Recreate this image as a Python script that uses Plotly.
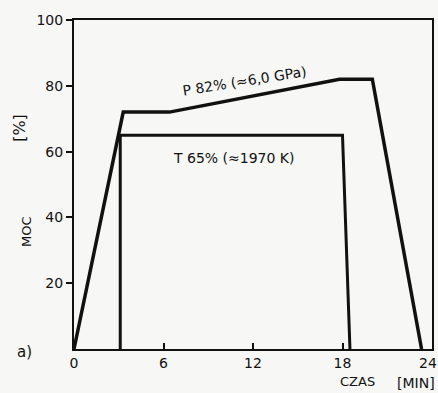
import plotly.graph_objects as go

# Data
p_time = [0, 3.3, 6.4, 17.8, 20.0, 23.3]
p_power = [0, 72, 72, 82, 82, 0]
t_time = [3.1, 3.1, 18.0, 18.5]
t_power = [0, 65, 65, 0]

x_ticks = [0, 6, 12, 18, 24]
x_ticktext = ["0", "6", "12", "18", "24"]
y_ticks = [20, 40, 60, 80, 100]

FONT = "DejaVu Sans"
ink = "#111111"

fig = go.Figure()
fig.add_trace(go.Scatter(x=p_time, y=p_power, mode="lines",
                         line=dict(color=ink, width=3.5), showlegend=False))
fig.add_trace(go.Scatter(x=t_time, y=t_power, mode="lines",
                         line=dict(color=ink, width=3), showlegend=False))

fig.update_layout(
    width=438, height=393,
    margin=dict(l=74, r=6, t=20, b=44, autoexpand=False),
    paper_bgcolor="#f7f7f5", plot_bgcolor="#f7f7f5",
    font=dict(family=FONT, color=ink, size=13),
    xaxis=dict(range=[0, 24], tickvals=x_ticks,
               ticktext=x_ticktext[:-1] + [""],
               ticks="inside", ticklen=6,
               tickwidth=1.5, tickcolor=ink, showgrid=False, zeroline=False,
               showline=True, linewidth=2, linecolor=ink, mirror=True,
               automargin=False, ticklabeloverflow="allow",
               tickfont=dict(size=14)),
    yaxis=dict(range=[0, 100], tickvals=y_ticks, ticks="outside", ticklen=6,
               tickwidth=1.5, tickcolor=ink, showgrid=False, zeroline=False,
               showline=True, linewidth=2, linecolor=ink, mirror=True,
               automargin=False, ticklabeloverflow="allow",
               tickfont=dict(size=14)),
)

# last x tick label, nudged left so it stays inside the picture
fig.add_annotation(xref="x", yref="paper", x=x_ticks[-1], y=-0.042,
                   text=x_ticktext[-1], showarrow=False, xshift=-4,
                   borderpad=0, xanchor="center", yanchor="middle",
                   font=dict(size=14))

anns = [
    dict(x=11.4, y=81.5, text="P 82% (≈6,0 GPa)", textangle=-9, font=dict(size=14)),
    dict(x=10.7, y=58, text="T 65% (≈1970 K)", font=dict(size=14)),
]
for a in anns:
    fig.add_annotation(xref="x", yref="y", showarrow=False,
                       xanchor="center", yanchor="middle", **a)

# axis titles and panel label in paper coords
side = [
    dict(x=-0.151, y=0.672, text="[%]", textangle=-90, font=dict(size=16)),
    dict(x=-0.131, y=0.356, text="MOC", textangle=-90, font=dict(size=13)),
    dict(x=-0.137, y=-0.009, text="a)", font=dict(size=15)),
    dict(x=0.793, y=-0.1, text="CZAS", font=dict(size=13)),
    dict(x=0.955, y=-0.102, text="[MIN]", font=dict(size=14)),
]
for a in side:
    fig.add_annotation(xref="paper", yref="paper", showarrow=False,
                       borderpad=0, xanchor="center", yanchor="middle", **a)

fig.write_html("out.html", config={"displayModeBar": False},
               post_script="document.body.style.margin='0';")
